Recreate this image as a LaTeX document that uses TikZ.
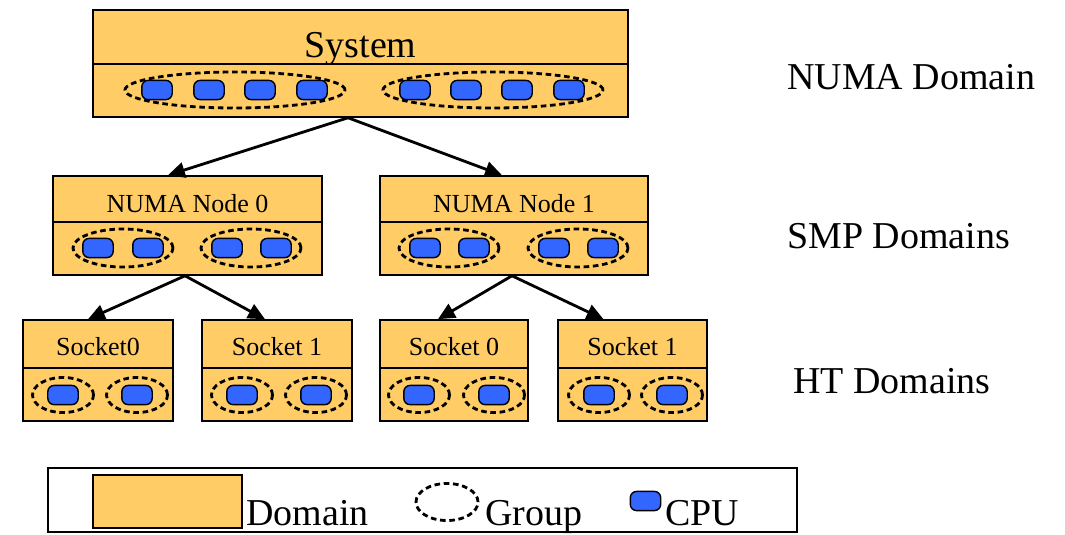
\documentclass[tikz,border=0pt]{standalone}
\usepackage{fontspec}
\setmainfont{Liberation Serif}
\usetikzlibrary{arrows.meta,calc,shapes.geometric}
\definecolor{domfill}{RGB}{255,204,102}
\definecolor{cpublue}{RGB}{51,102,255}

\begin{document}
\begin{tikzpicture}[x=0.025cm,y=-0.025cm,
        dom/.style={draw,line width=1.1pt,fill=domfill,inner sep=0pt},
        group/.style={draw,ellipse,line width=2pt,dash pattern=on 4pt off 2.6pt,inner sep=0pt},
        cpu/.style={draw,line width=1pt,fill=cpublue,rounded corners=4.5pt,minimum width=0.76cm,minimum height=0.48cm,inner sep=0pt},
        link/.style={line width=2pt,-{Triangle[length=12pt,width=11pt]}},
        big/.style={font=\fontsize{27}{30}\selectfont},
        small/.style={font=\fontsize{18.5}{21}\selectfont},
        level/.style={big,anchor=base west,inner sep=0pt}]
        \useasboundingbox (0,0) rectangle (1065,534);
        % system
        \node[dom,big,minimum width=13.375cm,minimum height=1.35cm,text height=29pt,text depth=0pt] (sys) at (360.5,37) {System};
        \node[dom,minimum width=13.375cm,minimum height=1.325cm] (sysb) at (360.5,90.5) {};
        \foreach \x in {157,209,260,312,415,466,517,569}
            \node[cpu] (sc\x) at (\x,90) {};
        \node[group,minimum width=5.5cm,minimum height=0.9cm] (sg0) at (235,90) {};
        \node[group,minimum width=5.5cm,minimum height=0.9cm] (sg1) at (493,90) {};
        % numa nodes
        \node[dom,small,minimum width=6.725cm,minimum height=1.15cm,text height=18.6pt,text depth=0pt] (n0) at (187.5,199) {NUMA Node 0};
        \node[dom,minimum width=6.725cm,minimum height=1.325cm] (n0b) at (187.5,248.5) {};
        \node[dom,small,minimum width=6.7cm,minimum height=1.15cm,text height=18.6pt,text depth=0pt] (n1) at (514,199) {NUMA Node 1};
        \node[dom,minimum width=6.7cm,minimum height=1.325cm] (n1b) at (514,248.5) {};
        \foreach \x in {98,148,227,276,425,474,554,603}
            \node[cpu] (nc\x) at (\x,248) {};
        \foreach \x in {123,251,449,578}
            \node[group,minimum width=2.5cm,minimum height=0.95cm] (ng\x) at (\x,248) {};
        % sockets
        \node[dom,small,minimum width=3.75cm,minimum height=1.2cm,text height=15.8pt,text depth=0pt] (s0) at (98,344) {Socket0};
        \node[dom,minimum width=3.75cm,minimum height=1.325cm] (s0b) at (98,394.5) {};
        \node[dom,small,minimum width=3.75cm,minimum height=1.2cm,text height=15.8pt,text depth=0pt] (s1) at (277,344) {Socket 1};
        \node[dom,minimum width=3.75cm,minimum height=1.325cm] (s1b) at (277,394.5) {};
        \node[dom,small,minimum width=3.7cm,minimum height=1.2cm,text height=15.8pt,text depth=0pt] (s2) at (454,344) {Socket 0};
        \node[dom,minimum width=3.7cm,minimum height=1.325cm] (s2b) at (454,394.5) {};
        \node[dom,small,minimum width=3.725cm,minimum height=1.2cm,text height=15.8pt,text depth=0pt] (s3) at (632.5,344) {Socket 1};
        \node[dom,minimum width=3.725cm,minimum height=1.325cm] (s3b) at (632.5,394.5) {};
        \foreach \x in {63,137,242,316,419,494,599,672} {
            \node[cpu] (hc\x) at (\x,395) {};
            \node[group,minimum width=1.525cm,minimum height=0.875cm] (hg\x) at (\x,395) {};
        }
        % arrows
        \draw[link] ($(sysb.south)+(-12.5,0)$) -- ($(n0.north)+(-19.5,0)$);
        \draw[link] ($(sysb.south)+(-12.5,0)$) -- ($(n1.north)+(-12,0)$);
        \draw[link] ($(n0b.south)+(-2.5,0)$) -- ($(s0.north)+(-10,0)$);
        \draw[link] ($(n0b.south)+(-2.5,0)$) -- ($(s1.north)+(-12,0)$);
        \draw[link] ($(n1b.south)+(-2,0)$) -- ($(s2.north)+(-16,0)$);
        \draw[link] ($(n1b.south)+(-2,0)$) -- ($(s3.north)+(-29,0)$);
        % levels
        \node[level] (lnuma) at (787,89) {NUMA Domain};
        \node[level] (lsmp) at (787,248) {SMP Domains};
        \node[level] (lht) at (793,393) {HT Domains};
        % legend
        \node[draw,line width=1pt,minimum width=18.725cm,minimum height=1.6cm,inner sep=0pt] (legend) at (422.5,500) {};
        \node[dom,minimum width=3.725cm,minimum height=1.325cm] (kdom) at (167.5,501.5) {};
        \node[level] (tdom) at (246,525) {Domain};
        \node[group,minimum width=1.55cm,minimum height=0.925cm] (kgroup) at (447,502) {};
        \node[level] (tgroup) at (485,525) {Group};
        \node[cpu] (kcpu) at (645.5,501) {};
        \node[level] (tcpu) at (665,525) {CPU};
    \end{tikzpicture}
\end{document}
